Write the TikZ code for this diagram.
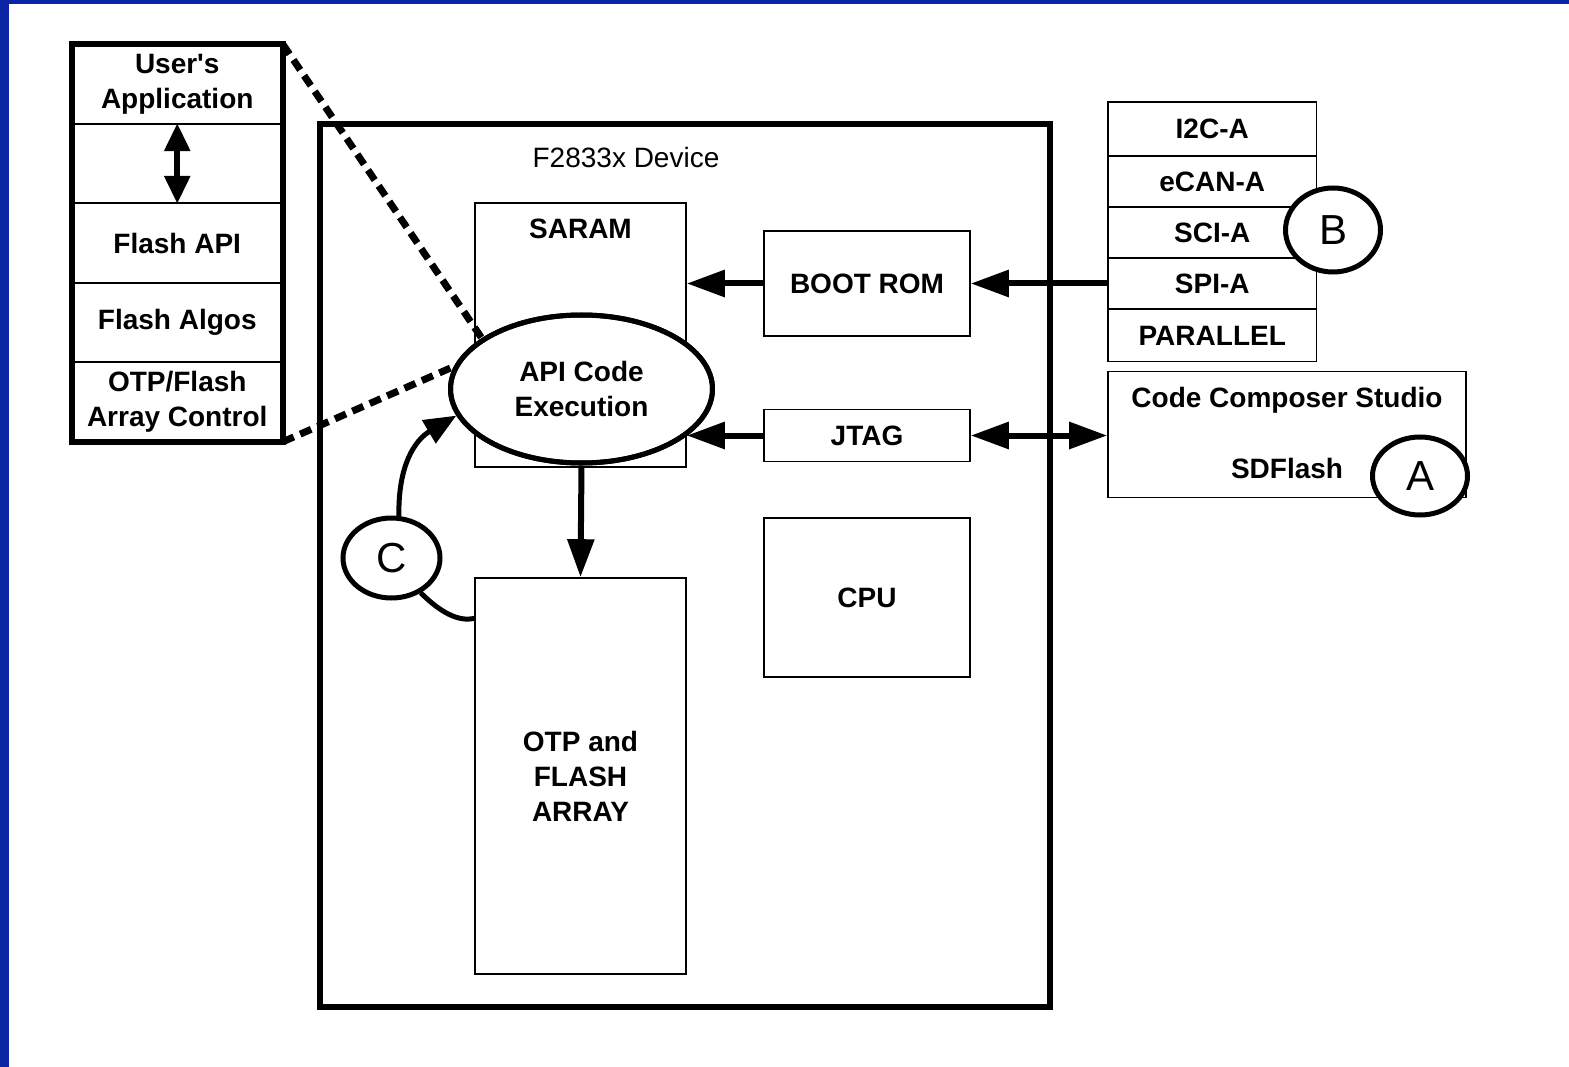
\documentclass[tikz,border=0pt]{standalone}
\usepackage{fontspec}
\setmainfont{Liberation Sans}[Ligatures=TeXOff]
\usetikzlibrary{arrows.meta,shapes.geometric}
\definecolor{frameblue}{RGB}{10,38,165}
\begin{document}
\begin{tikzpicture}[x=1pt,y=-1pt,
  txt/.style={font=\fontsize{28}{35}\selectfont\bfseries, align=center},
  thinbox/.style={draw, rectangle, line width=1.6pt, inner sep=0pt, txt},
  thickframe/.style={draw, line width=6pt},
  letter/.style={draw, ellipse, fill=white, line width=5pt, inner sep=0pt, font=\fontsize{42}{42}\selectfont},
  hhead/.style={line width=6pt, arrows={-Triangle[length=38pt,width=26pt]}},
  dhead/.style={line width=6pt, arrows={Triangle[length=38pt,width=26pt]-Triangle[length=38pt,width=26pt]}},
  zoomline/.style={line width=7pt, dash pattern=on 12pt off 7pt},
]
\useasboundingbox (0,0) rectangle (1569,1067);
% blue frame of the slide
\fill[frameblue] (0,0) rectangle (9,1067);
\fill[frameblue] (0,0) rectangle (1569,4);

% left software stack
\node[thinbox, minimum width=209.5pt, minimum height=79pt] (r1) at (177.25,84.5) {User's\\Application};
\node[thinbox, minimum width=209.5pt, minimum height=79pt] (r2) at (177.25,163.5) {};
\node[thinbox, minimum width=209.5pt, minimum height=80pt] (r3) at (177.25,243) {Flash API};
\node[thinbox, minimum width=209.5pt, minimum height=79pt] (r4) at (177.25,322.5) {Flash Algos};
\node[thinbox, minimum width=209.5pt, minimum height=79pt] (r5) at (177.25,401.5) {OTP/Flash\\Array Control};
\draw[thickframe] (r1.north west) rectangle (r5.south east);
\draw[line width=6pt, arrows={Triangle[length=28pt,width=25pt]-Triangle[length=28pt,width=25pt]}] (r2.north) -- (r2.south);

% device
\node[draw, rectangle, line width=6pt, minimum width=730pt, minimum height=883pt] (dev) at (685,565.5) {};
\node[txt, font=\fontsize{28}{35}\selectfont] (devlbl) at (626,157) {F2833x Device};
\node[thinbox, minimum width=211pt, minimum height=264pt] (saram) at (580.5,335) {};
\node[txt] (saramlbl) at (580.5,229) {SARAM};
\node[thinbox, minimum width=211pt, minimum height=396pt] (otp) at (580.5,776) {OTP and\\FLASH\\ARRAY};
\node[thinbox, minimum width=206pt, minimum height=105pt] (boot) at (867,283.5) {BOOT ROM};
\node[thinbox, minimum width=206pt, minimum height=52pt] (jtag) at (867,435.5) {JTAG};
\node[thinbox, minimum width=206pt, minimum height=159pt] (cpu) at (867,597.5) {CPU};

% interfaces
\node[thinbox, minimum width=208.5pt, minimum height=54pt] (i2c) at (1212.25,129) {I2C-A};
\node[thinbox, minimum width=208.5pt, minimum height=51pt] (ecan) at (1212.25,181.5) {eCAN-A};
\node[thinbox, minimum width=208.5pt, minimum height=51pt] (sci) at (1212.25,232.5) {SCI-A};
\node[thinbox, minimum width=208.5pt, minimum height=51pt] (spi) at (1212.25,283.5) {SPI-A};
\node[thinbox, minimum width=208.5pt, minimum height=52pt] (par) at (1212.25,335.5) {PARALLEL};
\node[thinbox, minimum width=358pt, minimum height=126pt] (ccs) at (1287,434.5) {};
\node[txt] (ccslbl) at (1287,400) {Code Composer Studio};
\node[txt] (sdflbl) at (1287,468) {SDFlash};

% API execution ellipse
\node[draw, ellipse, fill=white, line width=5pt, minimum width=262pt, minimum height=148pt, inner sep=0pt, txt] (api) at (581.5,389) {API Code\\Execution};

% zoom lines
\draw[zoomline] (r1.north east) -- (api.153);
\draw[zoomline] (r5.south east) -- (api.170);
\node[draw, ellipse, line width=5pt, minimum width=262pt, minimum height=148pt, inner sep=0pt] (apiring) at (581.5,389) {};

% connectors
\draw[hhead] (api.south) -- (otp.north);
\draw[hhead] (boot.west) -- (boot.west -| saram.east);
\draw[hhead] (jtag.west) -- (jtag.west -| saram.east);
\draw[hhead] (spi.west) -- (boot.east);
\draw[dhead] (jtag.east) -- (jtag.east -| ccs.west);

% letter markers
\node[letter, minimum width=97pt, minimum height=80pt] (cc) at (391.5,558) {C};
\node[letter, minimum width=95pt, minimum height=84pt] (bb) at (1333,230) {B};
\node[letter, minimum width=95pt, minimum height=78pt] (aa) at (1420,476) {A};
\draw[line width=5pt, arrows={-Triangle[length=32pt,width=26pt]}] (cc.80) .. controls (398,465) and (415,440) .. (api.192);
\draw[line width=5pt] (cc.-50) .. controls (440,612) and (458,622) .. (otp.124.6);
\end{tikzpicture}
\end{document}
